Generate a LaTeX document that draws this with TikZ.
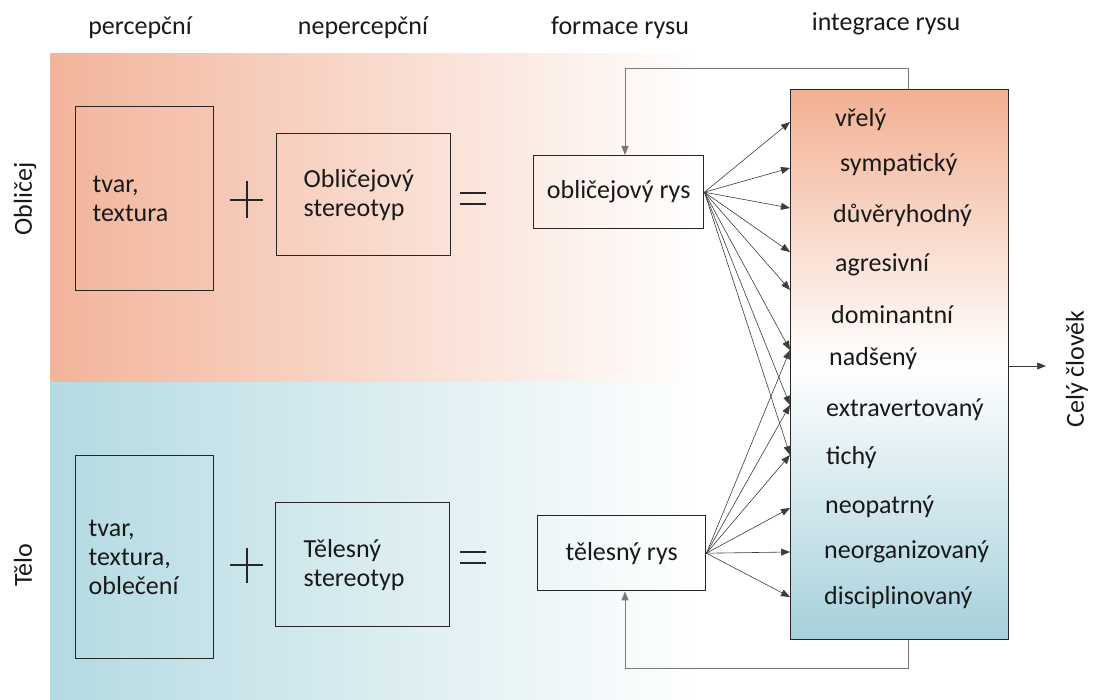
\documentclass[tikz,border=0pt]{standalone}
\usepackage{fontspec}
\setmainfont{Carlito}
\usetikzlibrary{arrows.meta}
\definecolor{salm}{RGB}{242,180,154}
\definecolor{bluel}{RGB}{180,218,226}
\definecolor{bigtop}{RGB}{243,176,146}
\definecolor{bigbot}{RGB}{166,208,219}
\definecolor{txt}{RGB}{25,25,25}
\definecolor{arr}{RGB}{60,60,60}
\definecolor{fbc}{RGB}{120,120,120}
\tikzset{
  lbl/.style={font=\fontsize{26}{29}\selectfont, text=txt, inner sep=0pt},
  bx/.style={draw=black!85, line width=1.4pt, font=\fontsize{26}{29}\selectfont, text=txt, align=left},
  trait/.style={lbl, anchor=west},
  ar/.style={draw=arr, line width=0.6pt, -{Triangle[length=9pt,width=7pt]}},
  fb/.style={draw=fbc, line width=1pt, -{Triangle[length=9pt,width=7pt]}},
  sym/.style={line width=1.3pt, draw=black!85}
}
\begin{document}
\begin{tikzpicture}[x=1pt,y=-1pt]
\useasboundingbox (0,0) rectangle (1097,700);
% background bands
\shade[left color=salm, right color=white] (50,54) rectangle (700,382);
\shade[left color=bluel, right color=white] (50,382) rectangle (700,700);

% headers
\node[lbl] (h1) at (140,28) {percepční};
\node[lbl] (h2) at (363,28) {nepercepční};
\node[lbl] (h3) at (620,28) {formace rysu};
\node[lbl] (h4) at (886,24) {integrace rysu};

% row labels
\node[lbl, rotate=90] (rowA) at (25,199) {Obličej};
\node[lbl, rotate=90] (rowB) at (23,565) {Tělo};

% face row
\node[bx, anchor=north west, text width=104pt, inner xsep=17pt, minimum height=184pt] (b1) at (75,106) {tvar,\\textura};
\node[bx, anchor=north west, text width=120pt, inner xsep=27pt, minimum height=122pt] (b2) at (276,133) {Obličejový\\stereotyp};
\node[bx, anchor=north west, minimum width=170pt, minimum height=73pt, align=center] (b3) at (533,155) {obličejový rys};
\draw[sym] (230,200) -- (263,200) (247,181) -- (247,218);
\draw[sym] (460,193) -- (486,193) (460,204) -- (486,204);

% body row
\node[bx, anchor=north west, text width=112pt, inner xsep=13pt, minimum height=203pt] (b4) at (75,455) {tvar,\\textura,\\oblečení};
\node[bx, anchor=north west, text width=118pt, inner xsep=28pt, minimum height=124pt] (b5) at (275,502) {Tělesný\\stereotyp};
\node[bx, anchor=north west, minimum width=168pt, minimum height=75pt, align=center] (b6) at (537,515) {tělesný rys};
\draw[sym] (230,565) -- (263,565) (247,548) -- (247,583);
\draw[sym] (460,552) -- (486,552) (460,563) -- (486,563);

% big integration box
\node[draw=black!85, line width=1.4pt, anchor=north west, minimum width=218pt, minimum height=550pt,
      top color=bigtop, bottom color=bigbot, middle color=white] (big) at (790,89) {};

% traits
\node[trait] (t1) at (835,120) {vřelý};
\node[trait] (t2) at (840,165) {sympatický};
\node[trait] (t3) at (833,215) {důvěryhodný};
\node[trait] (t4) at (835,265) {agresivní};
\node[trait] (t5) at (831,315) {dominantní};
\node[trait] (t6) at (829,359) {nadšený};
\node[trait] (t7) at (826,410) {extravertovaný};
\node[trait] (t8) at (826,458) {tichý};
\node[trait] (t9) at (825,507) {neopatrný};
\node[trait] (t10) at (824,552) {neorganizovaný};
\node[trait] (t11) at (824,598) {disciplinovaný};

% arrow targets on the big box edge
\foreach \n/\y in {a1/122,a2/168,a3/208,a4/252,a5/290,a6/350,a7/405,a8/455,a9/508,a10/552,a11/597}
  \coordinate (\n) at (790,\y);

% face arrows
\foreach \n in {a1,a2,a3,a4,a5,a6,a7,a8}
  \draw[ar] (b3.east) -- (\n);
% body arrows
\foreach \n in {a6,a7,a8,a9,a10,a11}
  \draw[ar] (b6.east) -- (\n);

% feedback loops
\coordinate (fT) at (908,69);
\coordinate (fTL) at (625,69);
\draw[fb] (big.north -| fT) -- (fT) -- (fTL) -- (b3.north -| fTL);
\coordinate (fB) at (908,668);
\coordinate (fBL) at (625,668);
\draw[fb] (big.south -| fB) -- (fB) -- (fBL) -- (b6.south -| fBL);

% output
\node[lbl, rotate=90] (out) at (1077,369) {Celý člověk};
\coordinate (outA) at (1046,366);
\draw[ar] (big.east |- outA) -- (outA);
\end{tikzpicture}
\end{document}
